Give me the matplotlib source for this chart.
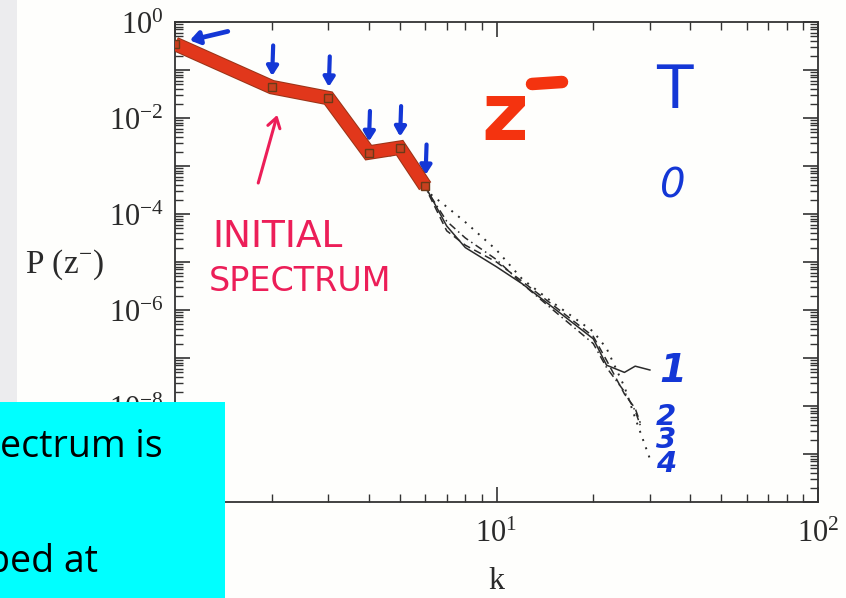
import numpy as np
import matplotlib
matplotlib.use("Agg")
import matplotlib.pyplot as plt
from matplotlib import font_manager
from matplotlib.ticker import LogLocator, FuncFormatter, NullFormatter
from matplotlib.lines import Line2D
from matplotlib.patches import Rectangle
import matplotlib.patheffects as pe

# ---------------- data ----------------
k_init = [1, 2, 3, 4, 5, 6]
P_init = [0.35, 0.044, 0.026, 0.0019, 0.0024, 0.00038]

k_T1 = [1, 2, 3, 4, 5, 6, 7, 8, 10, 12, 15, 20, 22, 25, 27, 30]
logP_T1 = [-0.45, -1.36, -1.60, -2.72, -2.62, -3.42, -4.25, -4.70, -5.10, -5.45,
           -5.95, -6.60, -7.15, -7.30, -7.17, -7.25]

k_T2 = [1, 2, 3, 4, 5, 6, 7, 8, 10, 12, 15, 20, 22, 25, 27, 28]
logP_T2 = [-0.45, -1.36, -1.62, -2.74, -2.64, -3.44, -4.35, -4.65, -5.00, -5.40,
           -5.90, -6.55, -7.05, -7.75, -8.05, -8.35]

k_T3 = [1, 2, 3, 4, 5, 6, 7, 8, 10, 12, 15, 20, 22, 25, 27, 28]
logP_T3 = [-0.45, -1.37, -1.63, -2.76, -2.66, -3.45, -4.15, -4.50, -4.95, -5.45,
           -6.00, -6.70, -7.20, -7.70, -8.10, -8.40]

k_T4 = [1, 2, 3, 4, 5, 6, 7, 8, 10, 12, 15, 20, 22, 25, 27, 30]
logP_T4 = [-0.46, -1.40, -1.68, -2.82, -2.76, -3.50, -3.85, -4.17, -4.75, -5.35,
           -5.85, -6.45, -6.80, -7.60, -8.25, -9.10]

series_labels = ["1", "2", "3", "4"]

# ---------------- fonts ----------------
names = {f.name for f in font_manager.fontManager.ttflist}
hand = "Liberation Sans Narrow" if "Liberation Sans Narrow" in names else "DejaVu Sans"
serif = "Liberation Serif"
plt.rcParams['mathtext.fontset'] = 'custom'
plt.rcParams['mathtext.rm'] = serif
plt.rcParams['mathtext.it'] = serif + ':italic'
plt.rcParams['mathtext.bf'] = serif + ':bold'

W, H = 846, 598
fig = plt.figure(figsize=(W / 100, H / 100), dpi=100, facecolor='#fefefc')

def fx(x):
    return x / W

def fy(y):
    return 1 - y / H

# grey slide strip at left
fig.patches.append(Rectangle((0, 0), fx(17), 1, transform=fig.transFigure,
                             facecolor='#ececee', edgecolor='none', zorder=0))

ax = fig.add_axes([fx(175), fy(502), fx(818) - fx(175), fy(22) - fy(502)])
ax.set_zorder(1)
ax.set_facecolor('#fefefc')
ax.set_xscale('log')
ax.set_yscale('log')
ax.set_xlim(1, 100)
ax.set_ylim(1e-10, 1)

black = '#2b2b2b'
ax.plot(k_T1, 10 ** np.array(logP_T1), color=black, lw=1.1, ls='-', zorder=3)
ax.plot(k_T2, 10 ** np.array(logP_T2), color=black, lw=1.1, ls=(0, (5, 3)), zorder=3)
ax.plot(k_T3, 10 ** np.array(logP_T3), color=black, lw=1.1, ls=(0, (5, 2.5, 1, 2.5)), zorder=3)
ax.plot(k_T4, 10 ** np.array(logP_T4), color=black, lw=1.4, ls=(0, (1, 3.5)), zorder=3)

# red highlighted initial spectrum
ax.plot(k_init, P_init, color='#e8381c', lw=9, alpha=0.92, solid_capstyle='butt',
        solid_joinstyle='miter', zorder=4,
        path_effects=[pe.Stroke(linewidth=10.5, foreground='#9a3418'), pe.Normal()])
ax.plot(k_init, P_init, ls='none', marker='s', ms=6, mfc='#c8401f', mec='#6a3a18',
        mew=1.0, zorder=5)

# ticks
for side in ['left', 'right', 'top', 'bottom']:
    ax.spines[side].set_color('#333333')
    ax.spines[side].set_linewidth(1.3)
ax.xaxis.set_major_locator(LogLocator(base=10, numticks=10))
ax.xaxis.set_minor_locator(LogLocator(base=10, subs=np.arange(2, 10), numticks=10))
ax.yaxis.set_major_locator(LogLocator(base=10, numticks=20))
ax.yaxis.set_minor_locator(LogLocator(base=10, subs=np.arange(2, 10), numticks=20))


def yfmt(v, pos):
    e = int(round(np.log10(v)))
    return r"$10^{%d}$" % e if e % 2 == 0 else ""


def xfmt(v, pos):
    e = int(round(np.log10(v)))
    return r"$10^{%d}$" % e


ax.yaxis.set_major_formatter(FuncFormatter(yfmt))
ax.xaxis.set_major_formatter(FuncFormatter(xfmt))
ax.xaxis.set_minor_formatter(NullFormatter())
ax.yaxis.set_minor_formatter(NullFormatter())
ax.tick_params(which='both', direction='in', top=True, right=True, colors='#333333')
ax.tick_params(which='major', length=11, width=1.2, labelsize=22, labelcolor='#2a2a2a')
ax.tick_params(which='minor', length=6, width=1.0)
ax.tick_params(axis='y', which='major', pad=8)
ax.tick_params(axis='x', which='major', pad=12)

ax.set_xlabel("k", fontsize=23, family=serif, color='#2a2a2a')
ax.xaxis.set_label_coords(0.5, -0.135)
ax.set_ylabel(r"P (z$^{-}$)", fontsize=24, family=serif, color='#2a2a2a',
              rotation=0, ha='center', va='center')
ax.yaxis.set_label_coords(-0.172, 0.494)

# ---------------- hand-drawn annotations ----------------
blue = '#1437d6'
pink = '#ec1e58'
red = '#f4330f'

# blue arrow at k=1 (pointing left)
ax.annotate("", xy=(k_init[0], P_init[0]), xytext=(38, 9), textcoords='offset points',
            arrowprops=dict(arrowstyle='-|>,head_length=0.55,head_width=0.38', lw=3.4,
                            color=blue, shrinkA=0, shrinkB=11))
# blue arrows pointing down onto the other spectral points
for kk, pp in zip(k_init[1:], P_init[1:]):
    ax.annotate("", xy=(kk, pp), xytext=(1, 30), textcoords='offset points',
                arrowprops=dict(arrowstyle='-|>,head_length=0.55,head_width=0.33', lw=3.0,
                                color=blue, shrinkA=0, shrinkB=8))

# pink arrow to the initial spectrum
ax.annotate("", xy=(k_init[1] * 1.04, P_init[1] * 0.263), xytext=(-13.7, -49),
            textcoords='offset points',
            arrowprops=dict(arrowstyle='->,head_length=0.7,head_width=0.45', lw=2.2,
                            color=pink, shrinkA=0, shrinkB=0))
fig.text(fx(212), fy(247), "INITIAL", family=hand, fontsize=27, color=pink,
         ha='left', va='baseline')
fig.text(fx(209), fy(291), "SPECTRUM", family=hand, fontsize=24, color=pink,
         ha='left', va='baseline')

# big red z^-
fig.text(fx(481), fy(140), "z", family='DejaVu Sans', fontweight='bold', fontsize=58,
         color=red, ha='left', va='baseline')
fig.lines.append(Line2D([fx(532), fx(562)], [fy(84), fy(82)], transform=fig.transFigure,
                        color=red, lw=9, solid_capstyle='round'))

# blue T and labels
fig.text(fx(656), fy(108), "T", family=hand, fontsize=43, color=blue, ha='left', va='baseline')
fig.text(fx(660), fy(198), "0", family=hand, fontsize=29, color=blue, style='italic',
         ha='left', va='baseline')
fig.text(fx(659), fy(382), series_labels[0], family=hand, fontsize=28, color=blue,
         fontweight='bold', style='italic', ha='left', va='baseline')
fig.text(fx(656), fy(472), "\n".join(series_labels[1:]), family=hand, fontsize=21,
         color=blue, fontweight='bold', style='italic', ha='left', va='baseline',
         linespacing=0.8)

# ---------------- cyan slide text box ----------------
box = fig.add_axes([0, 0, fx(225), fy(402)])
box.set_zorder(5)
box.set_facecolor('#00ffff')
box.set_xlim(0, 225)
box.set_ylim(598, 402)
for s in box.spines.values():
    s.set_visible(False)
box.set_xticks([])
box.set_yticks([])
box.text(0, 457, "ectrum is", family='Open Sans', fontsize=27, color='black',
         ha='left', va='baseline', clip_on=True)
box.text(-13, 572, "bed at", family='Open Sans', fontsize=27, color='black',
         ha='left', va='baseline', clip_on=True)

fig.savefig("out.png", dpi=100, facecolor=fig.get_facecolor())
